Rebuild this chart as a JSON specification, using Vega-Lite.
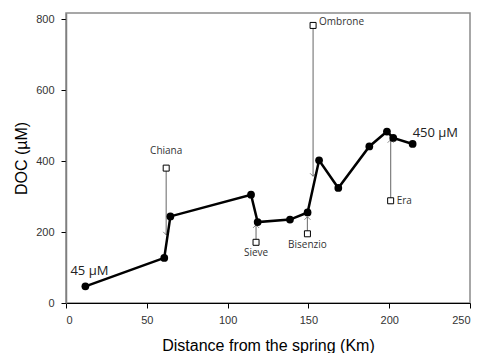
{
  "$schema": "https://vega.github.io/schema/vega-lite/v6.json",
  "width": 404,
  "height": 290,
  "autosize": {"type": "none"},
  "padding": {"left": 66, "top": 13, "right": 8, "bottom": 50},
  "background": "white",
  "config": {
    "view": {"stroke": "#8a8a8a", "strokeWidth": 1.5},
    "axis": {"grid": false, "labelFont": "Arial", "labelFontSize": 11, "labelColor": "#333333", "titleFont": "Arial", "titleFontSize": 16, "titleFontWeight": "normal", "titleColor": "#000000", "tickSize": 5}
  },
  "datasets": {
    "main": [
      {"d": 12, "doc": 47},
      {"d": 60.8, "doc": 127},
      {"d": 64.6, "doc": 244},
      {"d": 114.5, "doc": 305},
      {"d": 118.6, "doc": 228},
      {"d": 138.6, "doc": 235},
      {"d": 149.5, "doc": 255},
      {"d": 156.6, "doc": 402},
      {"d": 168.5, "doc": 324},
      {"d": 187.7, "doc": 441},
      {"d": 198.6, "doc": 483},
      {"d": 202.5, "doc": 465},
      {"d": 214.5, "doc": 448}
    ],
    "trib": [
      {"name": "Chiana", "d": 62, "doc": 380, "tip": 192, "dir": "down"},
      {"name": "Sieve", "d": 117.6, "doc": 171, "tip": 220, "dir": "up"},
      {"name": "Bisenzio", "d": 149.4, "doc": 195, "tip": 243, "dir": "up"},
      {"name": "Ombrone", "d": 152.9, "doc": 782, "tip": 357, "dir": "down"},
      {"name": "Era", "d": 200.9, "doc": 288, "tip": 460, "dir": "up"}
    ],
    "ends": [
      {"d": 12, "doc": 47, "label": "45 µM", "pos": "start"},
      {"d": 214.5, "doc": 448, "label": "450 µM", "pos": "end"}
    ]
  },
  "encoding": {
    "x": {"field": "d", "type": "quantitative", "scale": {"domain": [0, 250], "nice": false},
      "axis": {"title": "Distance from the spring (Km)", "values": [0, 50, 100, 150, 200, 250], "domainColor": "#000000", "tickColor": "#000000", "labelPadding": 6, "titlePadding": 12}},
    "y": {"field": "doc", "type": "quantitative", "scale": {"domain": [0, 817], "nice": false},
      "axis": {"title": "DOC (µM)", "values": [0, 200, 400, 600, 800], "domainColor": "#7f7f7f", "domainWidth": 1.5, "tickColor": "#000000", "labelPadding": 7, "titlePadding": 6}}
  },
  "layer": [
    {
      "data": {"name": "trib"},
      "mark": {"type": "rule", "color": "#7f7f7f", "strokeWidth": 1.2},
      "encoding": {"y2": {"field": "tip"}}
    },
    {
      "data": {"name": "trib"},
      "mark": {"type": "point", "shape": "M-1,-1L0,0L1,-1", "filled": false, "color": "#555555", "strokeWidth": 1, "size": 36},
      "encoding": {
        "y": {"field": "tip", "type": "quantitative"},
        "angle": {"condition": {"test": "datum.dir === 'up'", "value": 180}, "value": 0}
      }
    },
    {
      "data": {"name": "main"},
      "mark": {"type": "line", "color": "#000000", "strokeWidth": 2.5},
      "encoding": {}
    },
    {
      "data": {"name": "main"},
      "mark": {"type": "point", "filled": true, "shape": "circle", "color": "#000000", "size": 60, "opacity": 1},
      "encoding": {}
    },
    {
      "data": {"name": "trib"},
      "mark": {"type": "point", "shape": "square", "filled": true, "fill": "white", "stroke": "#000000", "strokeWidth": 1, "size": 36, "opacity": 1},
      "encoding": {}
    },
    {
      "data": {"name": "trib"},
      "transform": [{"filter": "datum.name === 'Chiana'"}],
      "mark": {"type": "text", "font": "Open Sans", "fontSize": 10, "color": "#333333", "align": "center", "baseline": "middle", "dy": -17},
      "encoding": {"text": {"field": "name"}}
    },
    {
      "data": {"name": "trib"},
      "transform": [{"filter": "datum.name === 'Sieve' || datum.name === 'Bisenzio'"}],
      "mark": {"type": "text", "font": "Open Sans", "fontSize": 10, "color": "#333333", "align": "center", "baseline": "middle", "dy": 11},
      "encoding": {"text": {"field": "name"}}
    },
    {
      "data": {"name": "trib"},
      "transform": [{"filter": "datum.name === 'Ombrone'"}],
      "mark": {"type": "text", "font": "Open Sans", "fontSize": 10, "color": "#333333", "align": "left", "baseline": "middle", "dx": 6, "dy": -3},
      "encoding": {"text": {"field": "name"}}
    },
    {
      "data": {"name": "trib"},
      "transform": [{"filter": "datum.name === 'Era'"}],
      "mark": {"type": "text", "font": "Open Sans", "fontSize": 10, "color": "#333333", "align": "left", "baseline": "middle", "dx": 6, "dy": 0},
      "encoding": {"text": {"field": "name"}}
    },
    {
      "data": {"name": "ends"},
      "transform": [{"filter": "datum.pos === 'start'"}],
      "mark": {"type": "text", "font": "Open Sans", "fontSize": 13, "color": "#222222", "align": "center", "baseline": "middle", "dx": 4, "dy": -15},
      "encoding": {"text": {"field": "label"}}
    },
    {
      "data": {"name": "ends"},
      "transform": [{"filter": "datum.pos === 'end'"}],
      "mark": {"type": "text", "font": "Open Sans", "fontSize": 13, "color": "#222222", "align": "left", "baseline": "middle", "dx": 0, "dy": -11},
      "encoding": {"text": {"field": "label"}}
    }
  ]
}
